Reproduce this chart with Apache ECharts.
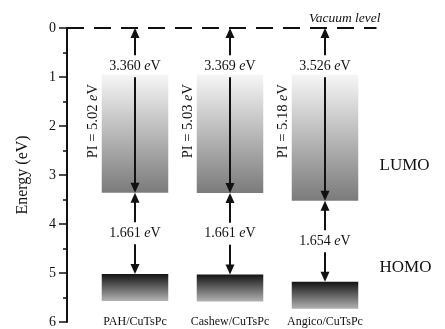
<!DOCTYPE html>
<html>
<head>
<meta charset="utf-8">
<script src="https://cdn.jsdelivr.net/npm/echarts@6/dist/echarts.min.js"></script>
<style>
  html, body { margin: 0; padding: 0; background: #fff; }
  #chart { width: 445px; height: 329px; }
</style>
</head>
<body>
<div id="chart"></div>
<script>
// Energy levels of the three CuTsPc blends (eV, measured down from the vacuum level)
const categories   = ['PAH/CuTsPc', 'Cashew/CuTsPc', 'Angico/CuTsPc'];
const vacuumToLumo = [3.360, 3.369, 3.526];
const lumoToHomo   = [1.661, 1.661, 1.654];
const ionization   = [5.02, 5.03, 5.18];
const vacuumLevel  = 0;
const yTickLabels  = ['0', '1', '2', '3', '4', '5', '6'];

const SERIF = '"Liberation Serif", "DejaVu Serif", serif';
const LUMO_TOP = 0.95;     // upper edge of the LUMO band
const HOMO_DEPTH = 0.55;   // thickness of the HOMO band
const VAC_LABEL_E = 0.78;  // where the vacuum->LUMO value sits on its arrow
const PI_LABEL_E = 1.9;    // centre of the rotated PI text
const AXIS_OFFSET = 20.5;  // y axis pushed left of the grid
const VAL_FONT = 14;

const levelData = categories.map((c, i) => [i, vacuumToLumo[i], lumoToHomo[i], ionization[i]]);

function evText(num) {
  return num.toFixed(3) + ' {i|e}V';
}
function richEv(size) {
  return { i: { fontStyle: 'italic', fontFamily: SERIF, fontSize: size, fill: '#111' } };
}

function head(cx, tipY, dir) {
  // dir = -1 points up, +1 points down
  const h = 10, w = 4.5;
  return {
    type: 'polygon',
    shape: { points: [[cx, tipY], [cx - w, tipY - dir * h], [cx + w, tipY - dir * h]] },
    style: { fill: '#111' }
  };
}
function vline(cx, y1, y2) {
  return {
    type: 'line',
    shape: { x1: cx, y1: y1, x2: cx, y2: y2 },
    style: { stroke: '#111', lineWidth: 2 }
  };
}
// double-headed arrow between yA (top) and yB (bottom), broken around its label
function brokenArrow(cx, yA, yB, labelY, text) {
  const halfH = 8, pad = 3;
  return [
    head(cx, yA, -1),
    vline(cx, yA + 8, labelY - halfH - pad),
    vline(cx, labelY + halfH + pad, yB - 8),
    head(cx, yB, 1),
    {
      type: 'text',
      x: cx, y: labelY,
      style: {
        text: text, rich: richEv(VAL_FONT),
        fontFamily: SERIF, fontSize: VAL_FONT, fill: '#111',
        align: 'center', verticalAlign: 'middle'
      }
    }
  ];
}

function renderLevels(params, api) {
  const i = api.value(0);
  const lumo = vacuumLevel + api.value(1);
  const homo = lumo + api.value(2);
  const pi = api.value(3);
  const cx = api.coord([i, 0])[0];
  const bw = api.size([1, 0])[0] * 0.7;
  const x0 = cx - bw / 2;
  const yVac = api.coord([i, vacuumLevel])[1];
  const yTop = api.coord([i, LUMO_TOP])[1];
  const yL = api.coord([i, lumo])[1];
  const yH = api.coord([i, homo])[1];
  const yHb = api.coord([i, homo + HOMO_DEPTH])[1];

  const children = [
    {
      type: 'rect',
      shape: { x: x0, y: yTop, width: bw, height: yL - yTop },
      style: {
        fill: new echarts.graphic.LinearGradient(0, 0, 0, 1, [
          { offset: 0, color: '#f6f6f6' },
          { offset: 1, color: '#7b7b7b' }
        ])
      }
    },
    {
      type: 'rect',
      shape: { x: x0, y: yH, width: bw, height: yHb - yH },
      style: {
        fill: new echarts.graphic.LinearGradient(0, 0, 0, 1, [
          { offset: 0, color: '#141414' },
          { offset: 1, color: '#b2b2b2' }
        ])
      }
    }
  ];
  const vacLabelY = api.coord([i, VAC_LABEL_E])[1];
  brokenArrow(cx, yVac, yL, vacLabelY, evText(api.value(1))).forEach(c => children.push(c));
  brokenArrow(cx, yL, yH, (yL + yH) / 2, evText(api.value(2))).forEach(c => children.push(c));
  children.push({
    type: 'text',
    x: x0 - 9,
    y: api.coord([i, PI_LABEL_E])[1],
    rotation: Math.PI / 2,
    style: {
      text: 'PI = ' + pi.toFixed(2) + ' {i|e}V', rich: richEv(14.5),
      fontFamily: SERIF, fontSize: 14.5, fill: '#111',
      align: 'center', verticalAlign: 'middle'
    }
  });
  return { type: 'group', children: children };
}

function renderVacuum(params, api) {
  const cs = params.coordSys;
  const y = api.coord([0, api.value(1)])[1];
  const xa = cs.x - AXIS_OFFSET;
  const xb = cs.x + cs.width + 4;
  return {
    type: 'group',
    children: [
      {
        type: 'line',
        shape: { x1: xa, y1: y, x2: xb, y2: y },
        style: { stroke: '#111', lineWidth: 2, lineDash: [17, 10] }
      },
      {
        type: 'text',
        x: xb + 4, y: y - 3,
        style: {
          text: 'Vacuum level', fontFamily: SERIF, fontSize: 13.5, fontStyle: 'italic',
          fill: '#111', align: 'right', verticalAlign: 'bottom'
        }
      },
      {
        type: 'text',
        x: xb + 3, y: api.coord([0, 2.8])[1],
        style: { text: 'LUMO', fontFamily: SERIF, fontSize: 17, fill: '#111', align: 'left', verticalAlign: 'middle' }
      },
      {
        type: 'text',
        x: xb + 3, y: api.coord([0, 4.88])[1],
        style: { text: 'HOMO', fontFamily: SERIF, fontSize: 17, fill: '#111', align: 'left', verticalAlign: 'middle' }
      }
    ]
  };
}

const chart = echarts.init(document.getElementById('chart'), null, { renderer: 'canvas' });
chart.setOption({
  animation: false,
  backgroundColor: '#fff',
  grid: { left: 87.5, right: 72.5, top: 28, bottom: 1, containLabel: false },
  xAxis: {
    type: 'category',
    data: categories,
    boundaryGap: true,
    axisLine: { show: false },
    axisTick: { show: false },
    splitLine: { show: false },
    axisLabel: { interval: 0, margin: -6, fontFamily: SERIF, fontSize: 12, color: '#111' }
  },
  yAxis: {
    type: 'value',
    inverse: true,
    min: 0, max: 6, interval: 1,
    offset: AXIS_OFFSET,
    name: 'Energy (eV)',
    nameLocation: 'middle',
    nameGap: 36,
    nameRotate: 90,
    nameTextStyle: { fontFamily: SERIF, fontSize: 16, color: '#111' },
    axisLine: { show: true, lineStyle: { color: '#111', width: 2 } },
    axisTick: { show: true, length: 8, lineStyle: { color: '#111', width: 1.5 } },
    minorTick: { show: true, splitNumber: 2, length: 4, lineStyle: { color: '#111', width: 1.5 } },
    splitLine: { show: false },
    axisLabel: {
      margin: 11, fontFamily: SERIF, fontSize: 14, color: '#111',
      formatter: v => yTickLabels[Math.round(v)] ?? String(v)
    }
  },
  series: [
    {
      type: 'custom',
      clip: false,
      renderItem: renderLevels,
      encode: { x: 0, y: 1 },
      data: levelData,
      z: 2
    },
    {
      type: 'custom',
      clip: false,
      renderItem: renderVacuum,
      encode: { x: 0, y: 1 },
      data: [[0, vacuumLevel]],
      z: 3
    }
  ]
});
</script>
</body>
</html>
